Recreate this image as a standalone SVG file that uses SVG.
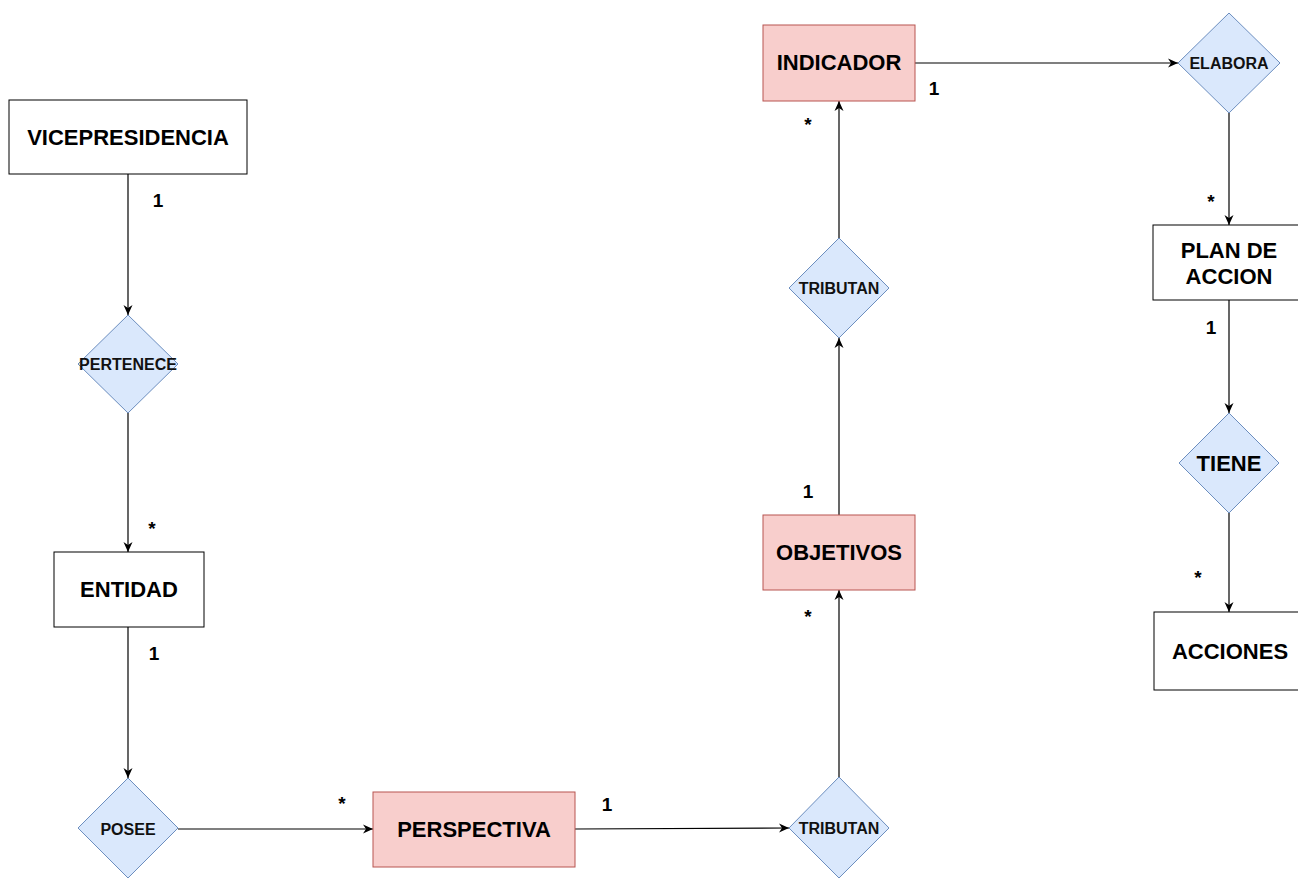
<svg xmlns="http://www.w3.org/2000/svg" width="1298" height="878" viewBox="0 0 1298 878">
  <defs>
    <marker id="arrow" viewBox="0 0 10 10" refX="10" refY="5" markerWidth="10" markerHeight="10" markerUnits="userSpaceOnUse" orient="auto">
      <path d="M0,0.5 L10,5 L0,9.5 L3,5 Z" fill="#000"/>
    </marker>
    <style>
      .entity { fill: #ffffff; stroke: #000000; stroke-width: 1; }
      .weak { fill: #f8cecc; stroke: #b85450; stroke-width: 1; }
      .rel { fill: #dae8fc; stroke: #6c8ebf; stroke-width: 1; }
      .etext { font-family: "Liberation Sans", Arial, sans-serif; font-weight: bold; font-size: 22px; fill: #000; text-anchor: middle; dominant-baseline: central; }
      .rtext { font-family: "Liberation Sans", Arial, sans-serif; font-weight: bold; font-size: 16px; fill: #111; text-anchor: middle; dominant-baseline: central; }
      .card { font-family: "Liberation Sans", Arial, sans-serif; font-weight: bold; font-size: 19px; fill: #000; text-anchor: middle; }
      .conn { fill: none; stroke: #000; stroke-width: 1.2; marker-end: url(#arrow); }
    </style>
  </defs>
  <rect width="1298" height="878" fill="#ffffff"/>

  <!-- connectors -->
  <g id="connectors">
    <path class="conn" d="M128,174 L128,315"/>
    <path class="conn" d="M128,413 L128,552"/>
    <path class="conn" d="M128,627 L128,778"/>
    <path class="conn" d="M178,829 L373,829"/>
    <path class="conn" d="M575,829 L789,828"/>
    <path class="conn" d="M839,777 L839,590"/>
    <path class="conn" d="M839,515 L839,338"/>
    <path class="conn" d="M839,238 L839,101"/>
    <path class="conn" d="M915,63 L1178,63"/>
    <path class="conn" d="M1229,113 L1229,225"/>
    <path class="conn" d="M1229,300 L1229,413"/>
    <path class="conn" d="M1229,513 L1229,612"/>
  </g>

  <!-- cardinality labels -->
  <g id="cardinalities">
    <text class="card" x="158" y="207">1</text>
    <text class="card" x="152" y="535">*</text>
    <text class="card" x="154" y="660">1</text>
    <text class="card" x="342" y="810">*</text>
    <text class="card" x="607" y="811">1</text>
    <text class="card" x="808" y="623">*</text>
    <text class="card" x="808" y="498">1</text>
    <text class="card" x="808" y="131">*</text>
    <text class="card" x="934" y="95">1</text>
    <text class="card" x="1211" y="208">*</text>
    <text class="card" x="1211" y="334">1</text>
    <text class="card" x="1198" y="584">*</text>
  </g>

  <!-- entities -->
  <g id="vicepresidencia">
    <rect class="entity" x="9" y="100" width="238" height="74"/>
    <text class="etext" x="128" y="137">VICEPRESIDENCIA</text>
  </g>
  <g id="entidad">
    <rect class="entity" x="54" y="552" width="150" height="75"/>
    <text class="etext" x="129" y="589">ENTIDAD</text>
  </g>
  <g id="perspectiva">
    <rect class="weak" x="373" y="792" width="202" height="75"/>
    <text class="etext" x="474" y="829">PERSPECTIVA</text>
  </g>
  <g id="objetivos">
    <rect class="weak" x="763" y="515" width="152" height="75"/>
    <text class="etext" x="839" y="552">OBJETIVOS</text>
  </g>
  <g id="indicador">
    <rect class="weak" x="763" y="25" width="152" height="76"/>
    <text class="etext" x="839" y="62">INDICADOR</text>
  </g>
  <g id="plan-de-accion">
    <rect class="entity" x="1153" y="225" width="152" height="75"/>
    <text class="etext" x="1229" y="250">PLAN DE</text>
    <text class="etext" x="1229" y="276">ACCION</text>
  </g>
  <g id="acciones">
    <rect class="entity" x="1154" y="612" width="152" height="78"/>
    <text class="etext" x="1230" y="651">ACCIONES</text>
  </g>

  <!-- relationships -->
  <g id="pertenece">
    <polygon class="rel" points="128,315 178,364 128,413 78,364"/>
    <text class="rtext" x="128" y="364">PERTENECE</text>
  </g>
  <g id="posee">
    <polygon class="rel" points="128,778 178,828 128,878 78,828"/>
    <text class="rtext" x="128" y="829">POSEE</text>
  </g>
  <g id="tributan-inferior">
    <polygon class="rel" points="839,777 889,828 839,878 789,828"/>
    <text class="rtext" x="839" y="828">TRIBUTAN</text>
  </g>
  <g id="tributan-superior">
    <polygon class="rel" points="839,238 889,288 839,338 789,288"/>
    <text class="rtext" x="839" y="288">TRIBUTAN</text>
  </g>
  <g id="elabora">
    <polygon class="rel" points="1229,13 1280,63 1229,113 1178,63"/>
    <text class="rtext" x="1229" y="63">ELABORA</text>
  </g>
  <g id="tiene">
    <polygon class="rel" points="1229,413 1279,463 1229,513 1179,463"/>
    <text class="etext" x="1229" y="463">TIENE</text>
  </g>
</svg>
